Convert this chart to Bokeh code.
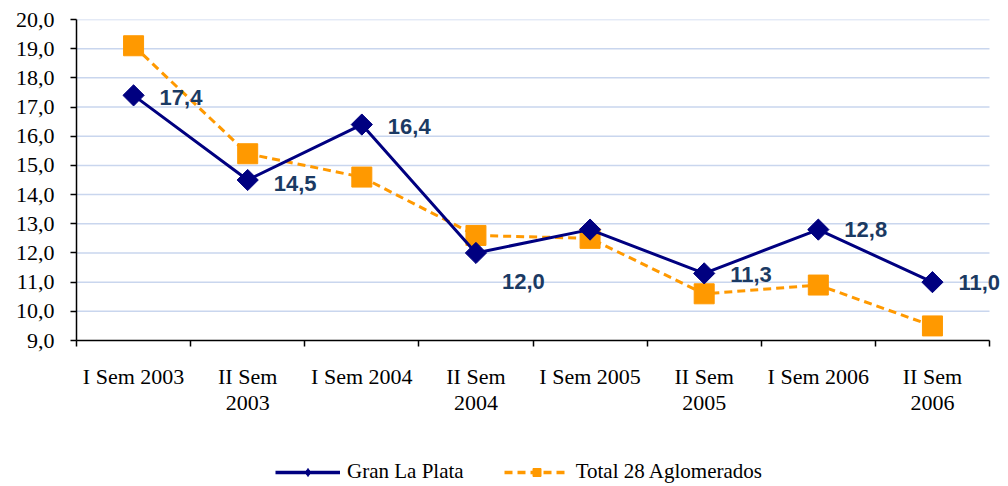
from bokeh.plotting import figure
from bokeh.models import Range1d, FixedTicker, Legend, LegendItem, ColumnDataSource
from bokeh.layouts import column
from bokeh.core.properties import value
from bokeh.embed import file_html
from bokeh.resources import INLINE

categories = ["I Sem 2003", "II Sem\n2003", "I Sem 2004", "II Sem\n2004",
              "I Sem 2005", "II Sem\n2005", "I Sem 2006", "II Sem\n2006"]
gran_la_plata = [17.4, 14.5, 16.4, 12.0, 12.8, 11.3, 12.8, 11.0]
total_28 = [19.1, 15.4, 14.6, 12.6, 12.5, 10.6, 10.9, 9.5]
gran_labels = ["17,4", "14,5", "16,4", "12,0", "", "11,3", "12,8", "11,0"]
series_names = ["Gran La Plata", "Total 28 Aglomerados"]
y_ticks = [9, 10, 11, 12, 13, 14, 15, 16, 17, 18, 19, 20]

label_dy = [2, 3, 2, 29, 0, 1, 0, 0]

NAVY = "#000080"
ORANGE = "#FF9900"

n = len(categories)
xs = [i + 0.5 for i in range(n)]
x_extra = n * 19 / 913  # room right of the last category for the label

p = figure(width=1008, height=450, output_backend="svg", toolbar_location=None,
           x_range=Range1d(0, n + x_extra), y_range=Range1d(9, 20),
           min_border_left=76, min_border_right=0, min_border_top=19,
           min_border_bottom=110)
p.outline_line_color = None
p.xgrid.grid_line_color = None
p.ygrid.grid_line_color = None

# horizontal gridlines limited to the category span
grid_src = ColumnDataSource(dict(y=y_ticks[1:], x0=[0] * (len(y_ticks) - 1),
                                 x1=[n] * (len(y_ticks) - 1)))
p.segment(x0="x0", y0="y", x1="x1", y1="y", source=grid_src,
          line_color="#C9D6EE", line_width=1.5, level="underlay")

# y axis
p.yaxis.ticker = FixedTicker(ticks=y_ticks)
p.yaxis.major_label_overrides = {t: f"{t:.1f}".replace(".", ",") for t in y_ticks}
p.yaxis.major_label_text_font = "Liberation Serif"
p.yaxis.major_label_text_font_size = "22px"
p.yaxis.major_label_text_color = "black"
p.yaxis.major_tick_out = 6
p.yaxis.major_tick_in = 0
p.yaxis.minor_tick_out = 0
p.yaxis.minor_tick_in = 0
p.yaxis.major_label_standoff = 16
p.yaxis.axis_line_color = "black"
p.yaxis.axis_line_width = 1.5
p.yaxis.major_tick_line_width = 1.5

# x axis
p.xaxis.bounds = (0, n)
p.xaxis.ticker = FixedTicker(ticks=xs, minor_ticks=list(range(n + 1)))
p.xaxis.major_label_overrides = {x: c for x, c in zip(xs, categories)}
p.xaxis.major_label_text_font = "Liberation Serif"
p.xaxis.major_label_text_font_size = "22px"
p.xaxis.major_label_text_color = "black"
p.xaxis.major_label_text_line_height = 1.05
p.xaxis.major_tick_out = 0
p.xaxis.major_tick_in = 0
p.xaxis.minor_tick_out = 6
p.xaxis.minor_tick_in = 0
p.xaxis.minor_tick_line_width = 1.5
p.xaxis.minor_tick_line_color = "black"
p.xaxis.major_label_standoff = 17
p.xaxis.axis_line_color = "black"
p.xaxis.axis_line_width = 1.5

src = ColumnDataSource(dict(x=xs, g=gran_la_plata, t=total_28, lab=gran_labels, dy=label_dy))

p.line("x", "t", source=src, line_color=ORANGE, line_width=3, line_dash="8 5")
p.scatter("x", "t", source=src, marker="square", size=20,
          fill_color=ORANGE, line_color=ORANGE)
p.line("x", "g", source=src, line_color=NAVY, line_width=3)
p.scatter("x", "g", source=src, marker="square", angle=0.785398, size=15,
          fill_color=NAVY, line_color=NAVY)

p.text("x", "g", text="lab", source=src, x_offset=26, y_offset="dy",
       text_font=value("Liberation Sans"), text_font_style="bold",
       text_font_size="22px", text_color="#1B3A63",
       text_align="left", text_baseline="middle")

# legend strip below the chart (its renderers sit outside the visible range)
lg = figure(width=1008, height=36, output_backend="svg", toolbar_location=None,
            x_range=Range1d(0, 1), y_range=Range1d(0, 1),
            x_axis_location=None, y_axis_location=None,
            min_border=0)
lg.outline_line_color = None
lg.xgrid.grid_line_color = None
lg.ygrid.grid_line_color = None
hidden = dict(x=[-5, -4], y=[-5, -4])
gl = lg.line(hidden["x"], hidden["y"], line_color=NAVY, line_width=3.5)
gm = lg.scatter(hidden["x"], hidden["y"], marker="diamond", size=16,
                fill_color=NAVY, line_color=NAVY)
tl = lg.line(hidden["x"], hidden["y"], line_color=ORANGE, line_width=3.5, line_dash="8 5")
tm = lg.scatter(hidden["x"], hidden["y"], marker="square", size=14,
                fill_color=ORANGE, line_color=ORANGE)

legend = Legend(items=[
    LegendItem(label=series_names[0], renderers=[gl, gm]),
    LegendItem(label=series_names[1], renderers=[tl, tm]),
], location=(199, 2), orientation="horizontal",
    glyph_width=65, glyph_height=20, label_standoff=7, spacing=40,
    padding=0, margin=0, border_line_alpha=0, background_fill_alpha=0,
    label_text_font="Liberation Serif", label_text_font_size="21px",
    label_text_color="black")
lg.add_layout(legend, "center")

layout = column(p, lg, spacing=0)

open("out.html", "w").write(file_html(layout, INLINE))
